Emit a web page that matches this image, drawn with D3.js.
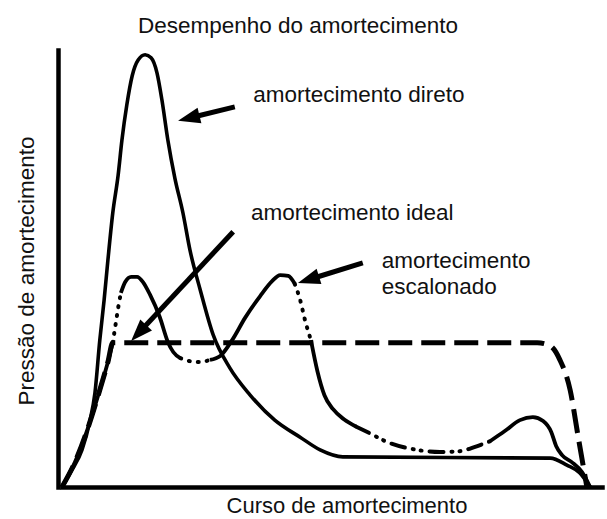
<!DOCTYPE html>
<html>
<head>
<meta charset="utf-8">
<script src="https://cdn.jsdelivr.net/npm/d3@7"></script>
<style>
  body { margin: 0; background: #fff; }
  text { font-family: "Liberation Sans", Arial, Helvetica, sans-serif; fill: #111; }
</style>
</head>
<body>
<svg class="chart" width="607" height="519"></svg>
<script>
// curso (0-100) x pressão (0-100)
var direto = [
  [0, 0], [1.85, 3.9], [3.7, 8.5], [5.2, 15.3], [6.1, 21.5], [7.0, 33.6],
  [7.8, 42.8], [8.5, 51.9], [9.4, 62.7], [10.4, 71.4], [11.1, 79.4],
  [12.0, 87.4], [13.0, 94.1], [14.1, 97.7], [15.4, 98.9], [16.5, 98.2],
  [17.6, 94.7], [18.5, 88.6], [19.6, 79.4], [20.9, 70.7], [22.4, 62.7],
  [23.7, 54.2], [25.6, 45.1], [28.0, 34.8], [31.1, 27.2], [34.8, 21.1],
  [39.4, 15.3], [44.1, 11.4], [47.8, 8.5], [52.0, 6.9], [90.4, 6.6],
  [93.5, 5.0], [95.9, 3.2], [97.8, 0]
]

var ideal = [
  [0, 0], [2.4, 5.7], [4.8, 13.5], [7.0, 22.2], [8.5, 28.6], [9.4, 33.0],
  [88.0, 33.0], [90.4, 32.3], [92.2, 29.1], [94.1, 22.2], [95.6, 11.4],
  [97.2, 0]
]

var escalonado = [
  [0, 0], [2.4, 5.7], [4.8, 13.5], [7.0, 22.2], [8.5, 28.6], [9.4, 33.0],
  [10.0, 37.8], [10.4, 41.0], [10.9, 44.4], [11.7, 46.9], [12.8, 48.1],
  [13.9, 48.1], [15.0, 46.9], [16.3, 44.0], [18.1, 38.9], [19.6, 33.2],
  [20.6, 30.9], [21.9, 29.5], [23.7, 28.8], [25.6, 28.6], [27.4, 29.1],
  [29.3, 30.0], [31.5, 33.6], [33.9, 38.7], [36.7, 43.7], [38.9, 47.1],
  [40.4, 48.5], [41.9, 48.3], [43.1, 46.5], [44.1, 42.8], [45.0, 38.2],
  [46.1, 33.6], [47.3, 26.5], [48.6, 21.0], [50.2, 17.8], [52.2, 15.5],
  [54.5, 13.8], [57.0, 12.3], [60.2, 10.3], [65.7, 8.5], [70.0, 8.0],
  [73.7, 8.2], [76.5, 9.2], [79.3, 10.5], [82.0, 12.8], [84.8, 15.3],
  [87.2, 16.0], [89.1, 15.1], [90.6, 12.6], [91.5, 9.4], [92.6, 7.3],
  [94.4, 5.7], [96.3, 3.4], [97.8, 0]
]

// pieces of the stepped curve: from x, to x, kind
var escalonadoTrechos = [
  [0, 9.4, 'solid'], [9.4, 10.9, 'dot'], [10.9, 21.9, 'solid'],
  [21.9, 27.4, 'dot'], [27.4, 43.1, 'solid'], [43.1, 46.1, 'dot'],
  [46.1, 54.5, 'solid'], [54.5, 79.3, 'dashdot'], [79.3, 97.8, 'solid']
]

// annotations: text lines, text anchor point, arrow tail, arrow tip
var rotulos = [
  { linhas: ['amortecimento direto'], pos: [35.4, 88.1], de: [32.0, 87.0], ate: [21.5, 83.8] },
  { linhas: ['amortecimento ideal'], pos: [35.0, 61.1], de: [31.7, 58.4], ate: [12.8, 33.4] },
  { linhas: ['amortecimento', 'escalonado'], pos: [59.2, 50.1], de: [55.7, 51.3], ate: [43.7, 46.7] }
]

var titulo = 'Desempenho do amortecimento'
var eixoX = 'Curso de amortecimento'
var eixoY = 'Pressão de amortecimento'

var svg = d3.select('.chart')

var xScale = d3.scaleLinear().domain([0, 100]).range([62, 602])
var yScale = d3.scaleLinear().domain([0, 100]).range([487, 50])

var line = d3
  .line()
  .x(d => xScale(d[0]))
  .y(d => yScale(d[1]))
  .curve(d3.curveMonotoneX)

//axes, no ticks
svg
  .append('g')
  .attr('class', 'axis')
  .attr('transform', 'translate(58, 0)')
  .call(d3.axisLeft(yScale).tickValues([]).tickSizeOuter(0))

svg
  .append('g')
  .attr('class', 'axis')
  .attr('transform', 'translate(0, 487)')
  .call(d3.axisBottom(xScale).tickValues([]).tickSizeOuter(0))

svg
  .selectAll('.axis .domain')
  .attr('stroke', '#000')
  .attr('stroke-width', 4.5)
  .attr('stroke-linecap', 'square')

// ideal: dashed
svg
  .append('path')
  .datum(ideal)
  .attr('d', line)
  .attr('fill', 'none')
  .attr('stroke', '#000')
  .attr('stroke-width', 5)
  .attr('stroke-dasharray', '24,9')

// direct
svg
  .append('path')
  .datum(direto)
  .attr('d', line)
  .attr('fill', 'none')
  .attr('stroke', '#000')
  .attr('stroke-width', 3.6)

// stepped, piece by piece
var estilos = {
  solid: null,
  dot: '1,8',
  dashdot: '14,8,1,7,1,8'
}
escalonadoTrechos.forEach(function(t) {
  var pts = escalonado.filter(d => d[0] >= t[0] && d[0] <= t[1])
  svg
    .append('path')
    .datum(pts)
    .attr('d', line)
    .attr('fill', 'none')
    .attr('stroke', '#000')
    .attr('stroke-width', t[2] == 'solid' ? 3.8 : 4)
    .attr('stroke-linecap', t[2] == 'solid' ? 'butt' : 'round')
    .attr('stroke-dasharray', estilos[t[2]])
})

// arrows + labels
rotulos.forEach(function(r) {
  var x0 = xScale(r.de[0]),
    y0 = yScale(r.de[1]),
    x1 = xScale(r.ate[0]),
    y1 = yScale(r.ate[1])
  var ang = Math.atan2(y1 - y0, x1 - x0)
  var cmp = 22,
    hw = 8
  var bx = x1 - cmp * Math.cos(ang),
    by = y1 - cmp * Math.sin(ang)
  svg
    .append('line')
    .attr('x1', x0)
    .attr('y1', y0)
    .attr('x2', bx + 2 * Math.cos(ang))
    .attr('y2', by + 2 * Math.sin(ang))
    .attr('stroke', '#000')
    .attr('stroke-width', 5)
  svg
    .append('path')
    .attr(
      'd',
      'M' + x1 + ',' + y1 +
        'L' + (bx + hw * Math.sin(ang)) + ',' + (by - hw * Math.cos(ang)) +
        'L' + (bx - hw * Math.sin(ang)) + ',' + (by + hw * Math.cos(ang)) + 'Z'
    )
    .attr('fill', '#000')

  var txt = svg
    .append('text')
    .attr('x', xScale(r.pos[0]))
    .attr('y', yScale(r.pos[1]))
    .style('font-size', '22.5px')
  r.linhas.forEach(function(l, i) {
    txt
      .append('tspan')
      .attr('x', xScale(r.pos[0]))
      .attr('dy', i == 0 ? 0 : 25.5)
      .text(l)
  })
})

//titles
svg
  .append('text')
  .attr('x', 298)
  .attr('y', 33)
  .attr('text-anchor', 'middle')
  .style('font-size', '22.5px')
  .text(titulo)

svg
  .append('text')
  .attr('x', 347)
  .attr('y', 513)
  .attr('text-anchor', 'middle')
  .style('font-size', '22px')
  .text(eixoX)

svg
  .append('text')
  .attr('transform', 'translate(34, 271) rotate(-90)')
  .attr('text-anchor', 'middle')
  .style('font-size', '22.5px')
  .text(eixoY)
</script>
</body>
</html>
